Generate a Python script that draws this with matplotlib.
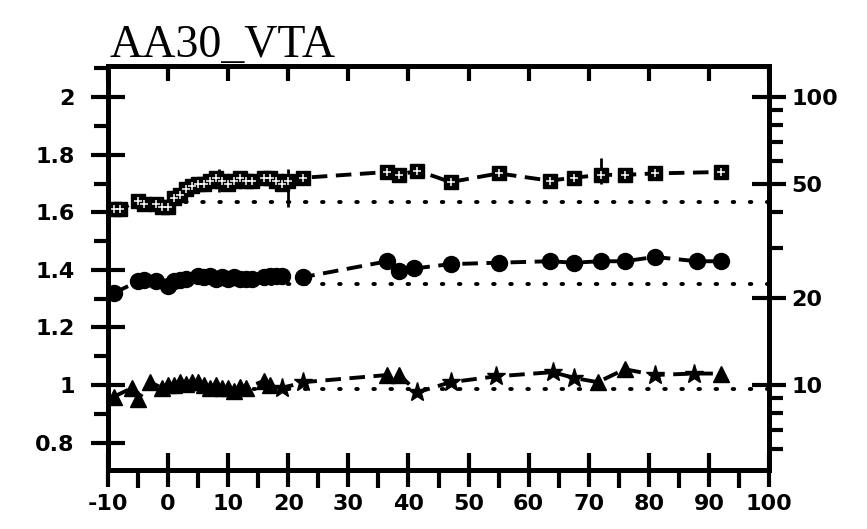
import numpy as np
import matplotlib.pyplot as plt
from matplotlib.ticker import FixedLocator, MultipleLocator, NullFormatter

# --- data ---
sq_x = [-9, -8, -5, -4, -2, -1, 0, 1, 2, 3, 4, 5, 6, 7, 8, 9, 10, 11, 12, 13, 14,
        16, 17, 18, 19, 20, 22.5, 36.5, 38.5, 41.5, 47, 55, 63.5, 67.5, 72, 76, 81, 92]
sq_y = [1.61, 1.61, 1.64, 1.63, 1.63, 1.62, 1.62, 1.65, 1.66, 1.68, 1.69, 1.70, 1.70,
        1.71, 1.72, 1.71, 1.70, 1.71, 1.72, 1.71, 1.71, 1.72, 1.72, 1.71, 1.70, 1.71,
        1.72, 1.74, 1.73, 1.745, 1.705, 1.735, 1.71, 1.72, 1.73, 1.73, 1.735, 1.74]

ci_x = [-9, -5, -4, -2, 0, 1, 2, 3, 5, 6, 7, 8, 9, 10, 11, 12, 13, 14, 16, 17, 18, 19,
        22.5, 36.5, 38.5, 41, 47, 55, 63.5, 67.5, 72, 76, 81, 88, 92]
ci_y = [1.32, 1.36, 1.365, 1.36, 1.345, 1.36, 1.365, 1.37, 1.38, 1.375, 1.38, 1.37,
        1.375, 1.37, 1.375, 1.37, 1.37, 1.37, 1.375, 1.38, 1.38, 1.38, 1.375, 1.43,
        1.395, 1.405, 1.42, 1.425, 1.43, 1.425, 1.43, 1.43, 1.445, 1.43, 1.43]

tri_x = [-9, -6, -5, -3, -1, 0, 1, 2, 3, 4, 5, 6, 7, 8, 9, 10, 11, 12, 13, 16, 17,
         36.5, 38.5, 71.5, 76, 92]
tri_y = [0.96, 0.99, 0.95, 1.01, 0.99, 1.0, 1.0, 1.01, 1.005, 1.01, 1.01, 1.0, 0.99,
         1.0, 0.99, 0.99, 0.98, 0.995, 0.99, 1.015, 1.0, 1.035, 1.035, 1.01, 1.055, 1.04]
star_x = [19, 22.5, 41.5, 47, 54.5, 64, 67.5, 81, 87.5]
star_y = [0.99, 1.01, 0.975, 1.01, 1.03, 1.045, 1.025, 1.035, 1.04]

err_x = [8.5, 20, 72]
err_lo = [1.67, 1.62, 1.70]
err_hi = [1.75, 1.75, 1.79]

ref_levels = [1.635, 1.352, 0.985]
ref_x = [0, 100]

xticks = list(range(-10, 101, 10))
yticks = [0.8, 1.0, 1.2, 1.4, 1.6, 1.8, 2.0]
ylabels = ['0.8', '1', '1.2', '1.4', '1.6', '1.8', '2']
rticks = [10, 20, 50, 100]
title = 'AA30_VTA'

YLIM = (0.705, 2.108)

fig = plt.figure(figsize=(8.67, 5.29), dpi=100)
ax = fig.add_axes([0.1246, 0.1115, 0.7624, 0.7637])

# reference dotted lines
for lvl in ref_levels:
    ax.plot(ref_x, [lvl, lvl], color='k', lw=2.8, linestyle=(0, (0.4, 4.0)),
            dash_capstyle='round', zorder=1)

dash = dict(color='k', lw=2.8, linestyle=(0, (4, 2.2)), zorder=2)

# squares
ax.plot(sq_x, sq_y, **dash)
ax.plot(sq_x, sq_y, 's', ms=10, color='k', zorder=3)
ax.plot(sq_x, sq_y, '+', ms=6, mew=1.1, color='w', zorder=4)
ax.vlines(err_x, err_lo, err_hi, color='k', lw=2, zorder=3)

# circles
ax.plot(ci_x, ci_y, **dash)
ax.plot(ci_x, ci_y, 'o', ms=11.5, color='k', zorder=3)

# triangles and stars joined by one dashed line
bx = np.array(tri_x + star_x)
by = np.array(tri_y + star_y)
order = np.argsort(bx, kind='stable')
ax.plot(bx[order], by[order], **dash)
ax.plot(tri_x, tri_y, '^', ms=11, color='k', zorder=3)
ax.plot(star_x, star_y, '*', ms=14, color='k', zorder=3)

ax.set_xlim(-10, 100)
ax.set_ylim(*YLIM)

for s in ax.spines.values():
    s.set_linewidth(3.6)

tick_font = dict(fontsize=16, fontweight='bold', family='DejaVu Sans')

ax.set_xticks(xticks)
ax.set_xticklabels([str(t) for t in xticks], **tick_font)
ax.xaxis.set_minor_locator(MultipleLocator(5))
ax.set_yticks(yticks)
ax.set_yticklabels(ylabels, **tick_font)
ax.yaxis.set_minor_locator(MultipleLocator(0.1))
ax.tick_params(axis='x', which='major', direction='inout', length=25, width=3, pad=5)
ax.tick_params(axis='x', which='minor', direction='out', length=13, width=3)
ax.tick_params(axis='y', which='major', direction='inout', length=24, width=3, pad=12)
ax.tick_params(axis='y', which='minor', direction='out', length=10, width=3)

top = ax.secondary_xaxis('top')
top.set_xticks(xticks)
top.tick_params(direction='in', length=11, width=3, labeltop=False)
top.spines['top'].set_linewidth(3.6)

rax = ax.twinx()
rax.set_yscale('log')
rax.set_ylim(10 ** YLIM[0], 10 ** YLIM[1])
rax.yaxis.set_major_locator(FixedLocator(rticks))
rax.yaxis.set_minor_locator(FixedLocator([6, 7, 8, 9, 30, 40, 60, 70, 80, 90]))
rax.yaxis.set_minor_formatter(NullFormatter())
rax.set_yticklabels([str(t) for t in rticks], **tick_font)
rax.tick_params(axis='y', which='major', direction='inout', length=24, width=3, pad=4)
rax.tick_params(axis='y', which='minor', direction='out', length=10, width=3)
for s in rax.spines.values():
    s.set_linewidth(3.6)

fig.text(0.126, 0.893, title, fontsize=33, family='Liberation Serif',
         ha='left', va='baseline')

fig.savefig('out.png', dpi=100)
